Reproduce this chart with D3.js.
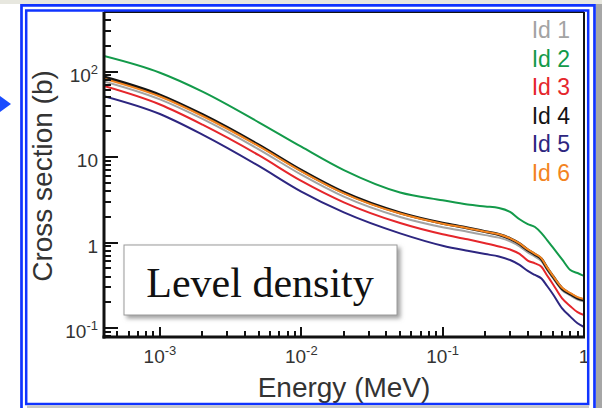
<!DOCTYPE html>
<html lang="en">
<head>
<meta charset="UTF-8">
<title>Level density - cross section</title>
<script src="https://d3js.org/d3.v7.min.js"></script>
<style>
  html, body { margin: 0; padding: 0; background: #fff; }
  svg { display: block; font-family: "Liberation Sans", Arial, sans-serif; }
</style>
</head>
<body>
<svg id="chart" width="602" height="408"></svg>
<script>
// Energy grid (MeV) and cross sections (b)
const energy = [4.02e-4, 1e-3, 2e-3, 5e-3, 1e-2, 2e-2, 5e-2, 0.1, 0.15, 0.2, 0.25, 0.3, 0.35, 0.4, 0.45, 0.5, 0.55, 0.6, 0.7, 0.8, 0.9, 1.0];
const id1 = [76.5, 47.2, 27.9, 12.3, 6.22, 3.44, 1.99, 1.51, 1.34, 1.22, 1.14, 1.03, 0.90, 0.765, 0.683, 0.606, 0.474, 0.388, 0.277, 0.240, 0.215, 0.204];
const id2 = [151.7, 96.8, 58.2, 25.5, 13.2, 7.03, 3.85, 3.12, 2.78, 2.64, 2.54, 2.28, 1.87, 1.64, 1.52, 1.29, 1.06, 0.881, 0.634, 0.476, 0.44, 0.406];
const id3 = [67.6, 41.1, 23.9, 10.5, 5.25, 2.95, 1.69, 1.25, 1.09, 0.982, 0.90, 0.828, 0.738, 0.614, 0.570, 0.52, 0.409, 0.33, 0.222, 0.180, 0.153, 0.142];
const id4 = [86.3, 53.1, 31.3, 13.8, 6.98, 3.85, 2.22, 1.68, 1.48, 1.34, 1.24, 1.11, 0.966, 0.817, 0.726, 0.641, 0.498, 0.406, 0.289, 0.250, 0.224, 0.213];
const id5 = [51.6, 31.9, 18.3, 7.87, 3.94, 2.25, 1.28, 0.918, 0.80, 0.732, 0.687, 0.624, 0.548, 0.465, 0.417, 0.379, 0.308, 0.252, 0.170, 0.136, 0.1135, 0.1028];
const id6 = [82.5, 51.0, 30.2, 13.4, 6.80, 3.76, 2.18, 1.66, 1.47, 1.34, 1.25, 1.12, 0.975, 0.83, 0.737, 0.652, 0.508, 0.413, 0.295, 0.256, 0.23, 0.219];

const seriesNames = ['Id 1', 'Id 2', 'Id 3', 'Id 4', 'Id 5', 'Id 6'];
const seriesValues = [id1, id2, id3, id4, id5, id6];
const colors = ['#a3a3a3', '#139a4a', '#e5262b', '#141414', '#2d2680', '#f3841f'];
const drawOrder = [0, 1, 2, 4, 3, 5];

const yTickLabels = [[0.1, '10', '-1'], [1, '1', ''], [10, '10', ''], [100, '10', '2']];
const xTickLabels = [[1e-3, '10', '-3'], [1e-2, '10', '-2'], [1e-1, '10', '-1'], [1, '1', '']];

const svg = d3.select('#chart');
const plot = { left: 104, right: 584, top: 12, bottom: 337 };

const x = d3.scaleLog().domain([4.02e-4, 1]).range([plot.left, plot.right]);
const y = d3.scaleLog().domain([0.0785, 497]).range([plot.bottom, plot.top]);

// page background bits
svg.append('rect').attr('width', 602).attr('height', 408).attr('fill', '#fff');
svg.append('rect').attr('x', 0).attr('y', 0).attr('width', 602).attr('height', 4).attr('fill', '#e7e7df');
svg.append('rect').attr('x', 596).attr('y', 4).attr('width', 6).attr('height', 404).attr('fill', '#a6a6a6');

const defs = svg.append('defs');
defs.append('clipPath').attr('id', 'clip')
  .append('rect').attr('x', plot.left).attr('y', plot.top)
  .attr('width', plot.right - plot.left).attr('height', plot.bottom - plot.top);
const shadow = defs.append('filter').attr('id', 'shadow')
  .attr('x', '-10%').attr('y', '-10%').attr('width', '130%').attr('height', '140%');
shadow.append('feDropShadow').attr('dx', 3).attr('dy', 3)
  .attr('stdDeviation', 2).attr('flood-color', '#777').attr('flood-opacity', 0.7);

// curves
const line = d3.line()
  .x(d => x(d[0]))
  .y(d => y(d[1]))
  .curve(d3.curveMonotoneX);

const curves = svg.append('g').attr('clip-path', 'url(#clip)');
drawOrder.forEach(i => {
  curves.append('path')
    .datum(energy.map((e, k) => [e, seriesValues[i][k]]))
    .attr('d', line)
    .attr('fill', 'none')
    .attr('stroke', colors[i])
    .attr('stroke-width', i === 3 ? 3 : 2)
    .attr('stroke-linejoin', 'round');
});

// frame: thin top/right, heavy left/bottom
svg.append('line').attr('x1', plot.left).attr('x2', plot.right).attr('y1', plot.top).attr('y2', plot.top)
  .attr('stroke', '#111').attr('stroke-width', 2);
svg.append('line').attr('x1', plot.right).attr('x2', plot.right).attr('y1', plot.top).attr('y2', plot.bottom)
  .attr('stroke', '#111').attr('stroke-width', 2);

const ticks = svg.append('g').attr('stroke', '#111').attr('stroke-width', 2);
const isMajor = v => Math.abs(Math.log10(v) - Math.round(Math.log10(v))) < 1e-6;

y.ticks().forEach(v => {
  const yy = Math.round(y(v));
  ticks.append('line').attr('x1', plot.left).attr('x2', plot.left + (isMajor(v) ? 14 : 7))
    .attr('y1', yy).attr('y2', yy);
});
x.ticks().forEach(v => {
  const xx = Math.round(x(v));
  ticks.append('line').attr('x1', xx).attr('x2', xx)
    .attr('y1', plot.bottom).attr('y2', plot.bottom - (isMajor(v) ? 10 : 6));
});

svg.append('line').attr('x1', plot.left).attr('x2', plot.left).attr('y1', plot.top).attr('y2', plot.bottom + 1.5)
  .attr('stroke', '#111').attr('stroke-width', 3);
svg.append('line').attr('x1', plot.left - 1.5).attr('x2', plot.right + 1).attr('y1', plot.bottom).attr('y2', plot.bottom)
  .attr('stroke', '#111').attr('stroke-width', 3);

// tick labels
function powLabel(g, base, sup) {
  g.append('tspan').text(base);
  if (sup) g.append('tspan').attr('font-size', 13).attr('dy', -8).text(sup);
}
yTickLabels.forEach(([v, base, sup]) => {
  const t = svg.append('text').attr('x', 98).attr('y', y(v) + 10)
    .attr('text-anchor', 'end').attr('font-size', 19).attr('fill', '#333');
  powLabel(t, base, sup);
});
xTickLabels.forEach(([v, base, sup]) => {
  const t = svg.append('text').attr('x', x(v)).attr('y', 363)
    .attr('text-anchor', 'middle').attr('font-size', 19).attr('fill', '#333');
  powLabel(t, base, sup);
});

// axis titles
svg.append('text').attr('x', 344).attr('y', 397).attr('text-anchor', 'middle')
  .attr('font-size', 28).attr('fill', '#333').text('Energy (MeV)');
svg.append('text').attr('transform', 'translate(52,176) rotate(-90)').attr('text-anchor', 'middle')
  .attr('font-size', 28).attr('fill', '#333').text('Cross section (b)');

// legend
seriesNames.forEach((name, i) => {
  svg.append('text').attr('x', 570).attr('y', 38 + i * 28.6)
    .attr('text-anchor', 'end').attr('font-size', 23).attr('fill', colors[i]).text(name);
});

// annotation box
svg.append('rect').attr('x', 124).attr('y', 245).attr('width', 273).attr('height', 70)
  .attr('fill', '#fff').attr('stroke', '#9a9a9a').attr('stroke-width', 1)
  .attr('filter', 'url(#shadow)');
svg.append('text').attr('x', 260).attr('y', 297).attr('text-anchor', 'middle')
  .attr('font-family', '"Liberation Serif", "Times New Roman", serif')
  .attr('font-size', 42).attr('fill', '#111').text('Level density');

// slide frame (double blue border) and arrow
svg.append('path').attr('d', 'M21.5,410 V5.3 H594.5 V410').attr('fill', 'none')
  .attr('stroke', '#1034ff').attr('stroke-width', 2.7);
svg.append('rect').attr('x', 26.2).attr('y', 10.5).attr('width', 562).attr('height', 393.5)
  .attr('fill', 'none').attr('stroke', '#1034ff').attr('stroke-width', 2.5);
svg.append('rect').attr('x', 27).attr('y', 405.3).attr('width', 562).attr('height', 3).attr('fill', '#c8c8c8');
svg.append('path').attr('d', 'M0,96 L11,104 L0,112 Z').attr('fill', '#1a4cff');
</script>
</body>
</html>
